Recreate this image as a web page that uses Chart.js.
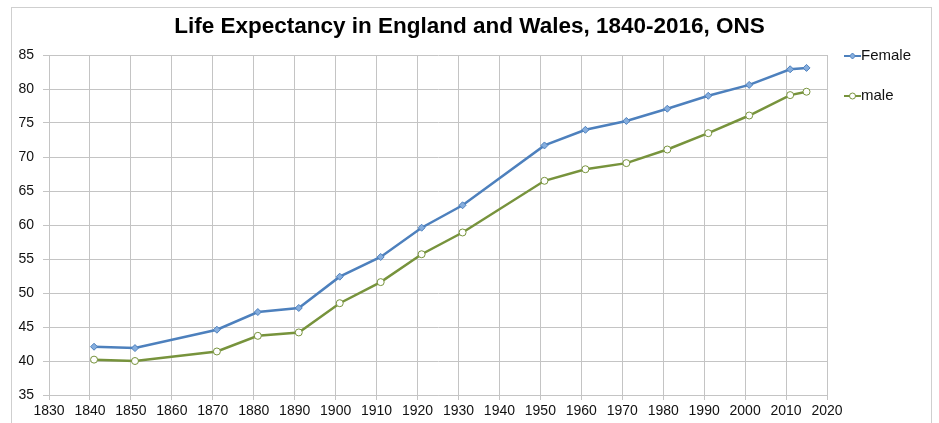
<!DOCTYPE html>
<html>
<head>
<meta charset="utf-8">
<script src="https://cdn.jsdelivr.net/npm/chart.js@4.4.1/dist/chart.umd.min.js"></script>
<style>
  html, body { margin: 0; padding: 0; background: #fff; }
  #wrap { position: relative; width: 939px; height: 423px; overflow: hidden; }
  #frame { position: absolute; left: 11px; top: 7px; width: 919px; height: 440px; border: 1px solid #cfcfcf; pointer-events: none; }
  canvas { position: absolute; left: 0; top: 0; }
</style>
</head>
<body>
<div id="wrap">
  <canvas id="lifeChart" width="939" height="423"></canvas>
  <div id="frame"></div>
</div>
<script>
// census years
const years = [1841, 1851, 1871, 1881, 1891, 1901, 1911, 1921, 1931, 1951, 1961, 1971, 1981, 1991, 2001, 2011, 2015];
const female = [42.1, 41.9, 44.6, 47.2, 47.8, 52.4, 55.3, 59.6, 62.9, 71.7, 74.0, 75.3, 77.1, 79.0, 80.6, 82.9, 83.1];
const male = [40.2, 40.0, 41.4, 43.7, 44.2, 48.5, 51.6, 55.7, 58.9, 66.5, 68.2, 69.1, 71.1, 73.5, 76.1, 79.1, 79.6];
const seriesNames = ['Female', 'male'];
const titleText = 'Life Expectancy in England and Wales, 1840-2016, ONS';

const blue = '#4d80bd';
const green = '#77933c';
const font = '"Liberation Sans", Arial, sans-serif';

function toPoints(vals) {
    return years.map((y, i) => ({ x: y, y: vals[i] }));
}

// legend on the right, drawn by hand so it sits where the original one does
const sideLegend = {
    id: 'sideLegend',
    afterDraw(chart) {
        const c = chart.ctx;
        const x0 = 844;
        const rows = [56, 96];
        chart.data.datasets.forEach((ds, i) => {
            const y = rows[i];
            c.save();
            c.strokeStyle = ds.borderColor;
            c.lineWidth = 2;
            c.beginPath();
            c.moveTo(x0, y);
            c.lineTo(x0 + 17, y);
            c.stroke();
            c.fillStyle = ds.pointBackgroundColor;
            c.beginPath();
            if (ds.pointStyle === 'rectRot') {
                c.moveTo(x0 + 8.5, y - 3);
                c.lineTo(x0 + 11.5, y);
                c.lineTo(x0 + 8.5, y + 3);
                c.lineTo(x0 + 5.5, y);
                c.closePath();
            } else {
                c.arc(x0 + 8.5, y, 3, 0, Math.PI * 2);
            }
            c.fill();
            c.lineWidth = 1;
            c.stroke();
            c.fillStyle = '#111';
            c.font = '15px ' + font;
            c.textBaseline = 'middle';
            c.fillText(ds.label, x0 + 17, y);
            c.restore();
        });
    }
};

new Chart(document.getElementById('lifeChart'), {
    type: 'line',
    data: {
        datasets: [
            {
                label: seriesNames[0],
                data: toPoints(female),
                borderColor: blue,
                borderWidth: 2.5,
                pointStyle: 'rectRot',
                pointRadius: 3.5,
                pointBackgroundColor: '#86aede',
                pointBorderColor: blue,
                pointBorderWidth: 1
            },
            {
                label: seriesNames[1],
                data: toPoints(male),
                borderColor: green,
                borderWidth: 2.5,
                pointStyle: 'circle',
                pointRadius: 3.5,
                pointBackgroundColor: '#ffffff',
                pointBorderColor: green,
                pointBorderWidth: 1
            }
        ]
    },
    options: {
        responsive: false,
        animation: false,
        layout: { padding: 0 },
        plugins: {
            legend: { display: false },
            tooltip: { enabled: false },
            title: {
                display: true,
                text: titleText,
                color: '#000',
                font: { family: font, size: 22.5, weight: 'bold' },
                padding: { top: 13, bottom: 15 }
            }
        },
        scales: {
            x: {
                type: 'linear',
                min: 1830,
                max: 2020,
                afterFit: s => { s.height = 28; },
                ticks: {
                    stepSize: 10,
                    color: '#111',
                    padding: 3,
                    maxRotation: 0,
                    font: { family: font, size: 14 },
                    callback: v => String(v)
                },
                grid: { color: '#c4c4c4', lineWidth: 1, tickLength: 5 },
                border: { color: '#c4c4c4' }
            },
            y: {
                min: 35,
                max: 85,
                afterFit: s => { s.width = 49; },
                ticks: {
                    stepSize: 5,
                    color: '#111',
                    padding: 9,
                    font: { family: font, size: 14 }
                },
                grid: { color: '#c4c4c4', lineWidth: 1, tickLength: 6 },
                border: { color: '#c4c4c4' }
            },
            // empty axis on the right that only keeps room for the legend
            side: {
                position: 'right',
                min: 35,
                max: 85,
                afterFit: s => { s.width = 112; },
                ticks: { display: false },
                grid: { display: false, drawOnChartArea: false },
                border: { display: false }
            }
        }
    },
    plugins: [sideLegend]
});
</script>
</body>
</html>
